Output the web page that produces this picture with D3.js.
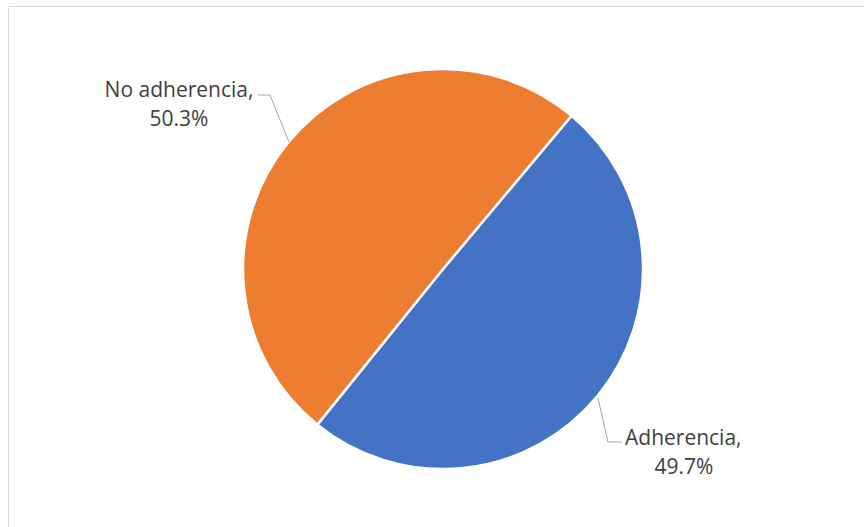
<!DOCTYPE html>
<html>
<head>
<meta charset="utf-8">
<script src="https://cdn.jsdelivr.net/npm/d3@7"></script>
<style>
  html, body { margin: 0; padding: 0; background: #fff; }
  svg { display: block; }
</style>
</head>
<body>
<svg id="chart" width="864" height="527"></svg>
<script>
// Adherence share, drawn as a two-slice pie
const categories = ["Adherencia", "No adherencia"];
const values = [49.7, 50.3];
const colors = ["#4472C4", "#ED7D31"];
const valueLabels = ["49.7%", "50.3%"];

const svg = d3.select("#chart");
const W = 864, H = 527;
const cx = 443, cy = 269, r = 200;

// Chart area frame
svg.append("rect")
  .attr("x", 8.5).attr("y", 6.5)
  .attr("width", W + 10).attr("height", H + 10)
  .attr("fill", "#fff")
  .attr("stroke", "#d9d9d9")
  .attr("stroke-width", 1);

// First slice starts 40° clockwise from 12 o'clock
const startRad = 40 * Math.PI / 180;
const pie = d3.pie().sort(null).value(d => d)
  .startAngle(startRad).endAngle(startRad + 2 * Math.PI);
const arcs = pie(values);
const arc = d3.arc().innerRadius(0).outerRadius(r);

const g = svg.append("g").attr("transform", `translate(${cx},${cy})`);
g.selectAll("path")
  .data(arcs)
  .join("path")
  .attr("d", arc)
  .attr("fill", (d, i) => colors[i])
  .attr("stroke", "#fff")
  .attr("stroke-width", 2.5)
  .attr("stroke-linejoin", "round");

const labelFont = "'Open Sans', 'Liberation Sans', sans-serif";
const fontSize = 21;

// Leader lines from each slice to its label
const leaders = [
  [[598, 398], [608, 442], [622, 442]],
  [[258, 95], [270, 95], [289, 142]]
];

function addText(x, y, anchor, str) {
  svg.append("text")
    .attr("font-family", labelFont)
    .attr("font-size", fontSize)
    .attr("fill", "#404040")
    .attr("x", x).attr("y", y)
    .attr("text-anchor", anchor)
    .text(str);
}

arcs.forEach((d, i) => {
  svg.append("polyline")
    .attr("points", leaders[i].map(p => p.join(",")).join(" "))
    .attr("fill", "none")
    .attr("stroke", "#a6a6a6")
    .attr("stroke-width", 1);
});

// Adherencia label (right of its leader)
addText(625, 445, "start", categories[0] + ",");
addText(684, 474, "middle", valueLabels[0]);
// No adherencia label (left of its leader)
addText(179, 97, "middle", categories[1] + ",");
addText(179, 126, "middle", valueLabels[1]);
</script>
</body>
</html>
